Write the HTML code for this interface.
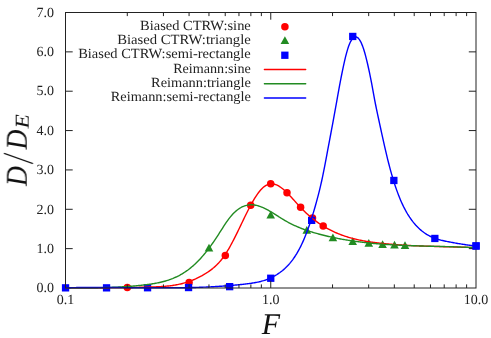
<!DOCTYPE html>
<html><head><meta charset="utf-8"><title>chart</title>
<style>html,body{margin:0;padding:0;background:#fff}body{width:491px;height:338px;overflow:hidden;position:relative;font-family:"Liberation Serif",serif}</style>
</head><body>
<svg width="491" height="338" viewBox="0 0 491 338" style="position:absolute;left:0;top:0">
<rect width="491" height="338" fill="#fff"/>
<g font-family="Liberation Serif, serif" font-size="14" fill="#222" text-rendering="geometricPrecision" opacity="0.999">
<text transform="translate(53.9,292.2) scale(1,1)" text-anchor="end">0.0</text>
<text transform="translate(53.9,252.8) scale(1,1)" text-anchor="end">1.0</text>
<text transform="translate(53.9,213.5) scale(1,1)" text-anchor="end">2.0</text>
<text transform="translate(53.9,174.1) scale(1,1)" text-anchor="end">3.0</text>
<text transform="translate(53.9,134.8) scale(1,1)" text-anchor="end">4.0</text>
<text transform="translate(53.9,95.4) scale(1,1)" text-anchor="end">5.0</text>
<text transform="translate(53.9,56.1) scale(1,1)" text-anchor="end">6.0</text>
<text transform="translate(53.9,16.7) scale(1,1)" text-anchor="end">7.0</text>
<text transform="translate(65.5,303.6) scale(1,1)" text-anchor="middle">0.1</text>
<text transform="translate(270.8,303.6) scale(1,1)" text-anchor="middle">1.0</text>
<text transform="translate(476.0,303.6) scale(1,1)" text-anchor="middle">10.0</text>
<text transform="translate(250.8,29.9) scale(1.0329,1)" text-anchor="end">Biased CTRW:sine</text>
<text transform="translate(250.8,44.1) scale(1.0489,1)" text-anchor="end">Biased CTRW:triangle</text>
<text transform="translate(250.8,58.4) scale(1.0334,1)" text-anchor="end">Biased CTRW:semi-rectangle</text>
<text transform="translate(250.8,72.7) scale(1.0082,1)" text-anchor="end">Reimann:sine</text>
<text transform="translate(250.8,86.9) scale(1.0260,1)" text-anchor="end">Reimann:triangle</text>
<text transform="translate(250.8,101.2) scale(1.0233,1)" text-anchor="end">Reimann:semi-rectangle</text>
</g>
<g font-family="Liberation Serif, serif" font-style="italic" fill="#111" text-rendering="geometricPrecision" opacity="0.999">
<text x="271" y="334" font-size="30" text-anchor="middle">F</text>
<g transform="translate(26.7,186) rotate(-90)"><text transform="scale(0.92,1)" font-size="30">D</text><path d="M22.4 6.2L32.7 -22.8" stroke="#111" stroke-width="1.2" fill="none"/><text transform="translate(36.6,0) scale(0.92,1)" font-size="30">D</text><text transform="translate(57.5,2.4) scale(1.19,1)" font-size="19.7">E</text></g>
</g>
<circle cx="127.3" cy="287.4" r="3.75" fill="#ff0000"/>
<circle cx="189.1" cy="282.5" r="3.75" fill="#ff0000"/>
<circle cx="225.3" cy="255.6" r="3.75" fill="#ff0000"/>
<circle cx="250.7" cy="205.2" r="3.75" fill="#ff0000"/>
<circle cx="270.7" cy="183.8" r="3.75" fill="#ff0000"/>
<circle cx="287.0" cy="192.8" r="3.75" fill="#ff0000"/>
<circle cx="300.6" cy="207.3" r="3.75" fill="#ff0000"/>
<circle cx="312.5" cy="218.0" r="3.75" fill="#ff0000"/>
<circle cx="323.2" cy="226.0" r="3.75" fill="#ff0000"/>
<circle cx="284.9" cy="26.8" r="3.75" fill="#ff0000"/>
<path d="M209.0 243.8l4.3 7.7h-8.6z" fill="#228b22"/>
<path d="M270.7 210.7l4.3 7.7h-8.6z" fill="#228b22"/>
<path d="M306.8 226.0l4.3 7.7h-8.6z" fill="#228b22"/>
<path d="M332.9 233.5l4.3 7.7h-8.6z" fill="#228b22"/>
<path d="M352.7 237.2l4.3 7.7h-8.6z" fill="#228b22"/>
<path d="M368.8 239.0l4.3 7.7h-8.6z" fill="#228b22"/>
<path d="M382.6 240.2l4.3 7.7h-8.6z" fill="#228b22"/>
<path d="M394.5 240.7l4.3 7.7h-8.6z" fill="#228b22"/>
<path d="M405.0 241.2l4.3 7.7h-8.6z" fill="#228b22"/>
<path d="M284.9 36.2l4.3 7.7h-8.6z" fill="#228b22"/>
<rect x="61.9" y="284.2" width="7.3" height="7.3" fill="#0000ff"/>
<rect x="102.9" y="284.2" width="7.3" height="7.3" fill="#0000ff"/>
<rect x="143.9" y="284.1" width="7.3" height="7.3" fill="#0000ff"/>
<rect x="184.9" y="283.9" width="7.3" height="7.3" fill="#0000ff"/>
<rect x="226.0" y="283.0" width="7.3" height="7.3" fill="#0000ff"/>
<rect x="267.1" y="274.6" width="7.3" height="7.3" fill="#0000ff"/>
<rect x="308.0" y="216.7" width="7.3" height="7.3" fill="#0000ff"/>
<rect x="349.1" y="32.8" width="7.3" height="7.3" fill="#0000ff"/>
<rect x="390.2" y="176.8" width="7.3" height="7.3" fill="#0000ff"/>
<rect x="431.2" y="234.8" width="7.3" height="7.3" fill="#0000ff"/>
<rect x="472.4" y="242.3" width="7.3" height="7.3" fill="#0000ff"/>
<rect x="281.2" y="51.6" width="7.3" height="7.3" fill="#0000ff"/>
<path d="M264.4 69.50H305.7" stroke="#ff0000" stroke-width="1.4" stroke-linecap="round" fill="none"/>
<path d="M65.60 287.70L66.60 287.70L67.60 287.70L68.60 287.70L69.60 287.70L70.60 287.70L71.60 287.70L72.60 287.70L73.60 287.70L74.60 287.70L75.60 287.70L76.60 287.70L77.60 287.70L78.60 287.70L79.60 287.70L80.60 287.70L81.60 287.70L82.60 287.70L83.60 287.70L84.60 287.70L85.60 287.70L86.60 287.70L87.60 287.70L88.60 287.70L89.60 287.70L90.60 287.70L91.60 287.70L92.60 287.70L93.60 287.70L94.60 287.70L95.60 287.70L96.60 287.70L97.60 287.70L98.60 287.70L99.60 287.70L100.60 287.70L101.60 287.70L102.60 287.70L103.60 287.70L104.60 287.69L105.60 287.69L106.60 287.69L107.60 287.68L108.60 287.68L109.60 287.67L110.60 287.67L111.60 287.66L112.60 287.66L113.60 287.65L114.60 287.64L115.60 287.64L116.60 287.63L117.60 287.62L118.60 287.61L119.60 287.61L120.60 287.60L121.60 287.59L122.60 287.58L123.60 287.56L124.60 287.55L125.60 287.54L126.60 287.53L127.60 287.52L128.60 287.50L129.60 287.49L130.60 287.47L131.60 287.46L132.60 287.44L133.60 287.42L134.60 287.41L135.60 287.39L136.60 287.37L137.60 287.35L138.60 287.33L139.60 287.31L140.60 287.29L141.60 287.27L142.60 287.24L143.60 287.22L144.60 287.20L145.60 287.17L146.60 287.14L147.60 287.12L148.60 287.09L149.60 287.06L150.60 287.03L151.60 287.00L152.60 286.97L153.60 286.94L154.60 286.90L155.60 286.86L156.60 286.82L157.60 286.77L158.60 286.73L159.60 286.67L160.60 286.62L161.60 286.55L162.60 286.49L163.60 286.41L164.60 286.33L165.60 286.25L166.60 286.16L167.60 286.06L168.60 285.95L169.60 285.84L170.60 285.71L171.60 285.58L172.60 285.44L173.60 285.29L174.60 285.13L175.60 284.96L176.60 284.78L177.60 284.59L178.60 284.39L179.60 284.17L180.60 283.95L181.60 283.71L182.60 283.46L183.60 283.19L184.60 282.91L185.60 282.62L186.60 282.32L187.60 281.99L188.60 281.66L189.60 281.31L190.60 280.94L191.60 280.56L192.60 280.16L193.60 279.74L194.60 279.31L195.60 278.87L196.60 278.40L197.60 277.92L198.60 277.43L199.60 276.92L200.60 276.39L201.60 275.85L202.60 275.28L203.60 274.71L204.60 274.11L205.60 273.50L206.60 272.87L207.60 272.22L208.60 271.55L209.60 270.85L210.60 270.13L211.60 269.37L212.60 268.58L213.60 267.75L214.60 266.88L215.60 265.97L216.60 265.02L217.60 264.01L218.60 262.96L219.60 261.85L220.60 260.69L221.60 259.46L222.60 258.17L223.60 256.82L224.60 255.40L225.60 253.91L226.60 252.36L227.60 250.73L228.60 249.05L229.60 247.31L230.60 245.51L231.60 243.67L232.60 241.79L233.60 239.86L234.60 237.90L235.60 235.91L236.60 233.89L237.60 231.84L238.60 229.78L239.60 227.71L240.60 225.62L241.60 223.54L242.60 221.45L243.60 219.37L244.60 217.30L245.60 215.25L246.60 213.23L247.60 211.23L248.60 209.26L249.60 207.33L250.60 205.44L251.60 203.60L252.60 201.81L253.60 200.08L254.60 198.41L255.60 196.81L256.60 195.29L257.60 193.84L258.60 192.47L259.60 191.20L260.60 190.01L261.60 188.93L262.60 187.95L263.60 187.08L264.60 186.31L265.60 185.65L266.60 185.09L267.60 184.64L268.60 184.29L269.60 184.04L270.60 183.89L271.60 183.84L272.60 183.89L273.60 184.03L274.60 184.26L275.60 184.57L276.60 184.96L277.60 185.43L278.60 185.96L279.60 186.57L280.60 187.24L281.60 187.96L282.60 188.74L283.60 189.58L284.60 190.45L285.60 191.37L286.60 192.33L287.60 193.33L288.60 194.35L289.60 195.40L290.60 196.47L291.60 197.56L292.60 198.67L293.60 199.78L294.60 200.90L295.60 202.02L296.60 203.14L297.60 204.25L298.60 205.34L299.60 206.43L300.60 207.49L301.60 208.54L302.60 209.56L303.60 210.55L304.60 211.53L305.60 212.48L306.60 213.42L307.60 214.33L308.60 215.22L309.60 216.09L310.60 216.94L311.60 217.77L312.60 218.58L313.60 219.37L314.60 220.15L315.60 220.90L316.60 221.64L317.60 222.35L318.60 223.06L319.60 223.74L320.60 224.40L321.60 225.05L322.60 225.69L323.60 226.30L324.60 226.90L325.60 227.49L326.60 228.06L327.60 228.61L328.60 229.15L329.60 229.68L330.60 230.19L331.60 230.69L332.60 231.18L333.60 231.65L334.60 232.11L335.60 232.55L336.60 232.99L337.60 233.41L338.60 233.82L339.60 234.22L340.60 234.60L341.60 234.98L342.60 235.35L343.60 235.70L344.60 236.04L345.60 236.38L346.60 236.70L347.60 237.01L348.60 237.32L349.60 237.61L350.60 237.90L351.60 238.17L352.60 238.44L353.60 238.70L354.60 238.95L355.60 239.19L356.60 239.43L357.60 239.65L358.60 239.87L359.60 240.08L360.60 240.29L361.60 240.49L362.60 240.68L363.60 240.86L364.60 241.04L365.60 241.22L366.60 241.38L367.60 241.54L368.60 241.70L369.60 241.85L370.60 242.00L371.60 242.14L372.60 242.28L373.60 242.41L374.60 242.54L375.60 242.67L376.60 242.79L377.60 242.91L378.60 243.02L379.60 243.14L380.60 243.25L381.60 243.35L382.60 243.46L383.60 243.56L384.60 243.66L385.60 243.76L386.60 243.85L387.60 243.95L388.60 244.04L389.60 244.13L390.60 244.21L391.60 244.30L392.60 244.38L393.60 244.46L394.60 244.54L395.60 244.61L396.60 244.69L397.60 244.76L398.60 244.83L399.60 244.90L400.60 244.96L401.60 245.03L402.60 245.09L403.60 245.15L404.60 245.21L405.60 245.27L406.60 245.33L407.60 245.38L408.60 245.43L409.60 245.49L410.60 245.54L411.60 245.59L412.60 245.63L413.60 245.68L414.60 245.73L415.60 245.77L416.60 245.81L417.60 245.85L418.60 245.90L419.60 245.93L420.60 245.97L421.60 246.01L422.60 246.05L423.60 246.08L424.60 246.12L425.60 246.15L426.60 246.19L427.60 246.22L428.60 246.25L429.60 246.28L430.60 246.31L431.60 246.34L432.60 246.37L433.60 246.40L434.60 246.43L435.60 246.46L436.60 246.49L437.60 246.52L438.60 246.54L439.60 246.57L440.60 246.60L441.60 246.62L442.60 246.65L443.60 246.68L444.60 246.70L445.60 246.73L446.60 246.76L447.60 246.78L448.60 246.81L449.60 246.84L450.60 246.86L451.60 246.89L452.60 246.92L453.60 246.94L454.60 246.97L455.60 247.00L456.60 247.03L457.60 247.06L458.60 247.09L459.60 247.12L460.60 247.15L461.60 247.18L462.60 247.21L463.60 247.25L464.60 247.28L465.60 247.31L466.60 247.35L467.60 247.38L468.60 247.42L469.60 247.46L470.60 247.50L471.60 247.54L472.60 247.58L473.60 247.62L474.60 247.66L475.60 247.71L476.00 247.72" stroke="#ff0000" stroke-width="1.4" fill="none" stroke-linejoin="round"/>
<path d="M264.4 83.75H305.7" stroke="#228b22" stroke-width="1.4" stroke-linecap="round" fill="none"/>
<path d="M65.60 287.66L66.60 287.67L67.60 287.68L68.60 287.69L69.60 287.70L70.60 287.70L71.60 287.70L72.60 287.70L73.60 287.70L74.60 287.70L75.60 287.70L76.60 287.70L77.60 287.70L78.60 287.70L79.60 287.70L80.60 287.70L81.60 287.70L82.60 287.70L83.60 287.70L84.60 287.70L85.60 287.70L86.60 287.70L87.60 287.70L88.60 287.70L89.60 287.70L90.60 287.70L91.60 287.70L92.60 287.70L93.60 287.70L94.60 287.70L95.60 287.70L96.60 287.70L97.60 287.68L98.60 287.67L99.60 287.65L100.60 287.63L101.60 287.61L102.60 287.59L103.60 287.57L104.60 287.55L105.60 287.52L106.60 287.50L107.60 287.47L108.60 287.44L109.60 287.41L110.60 287.37L111.60 287.34L112.60 287.30L113.60 287.26L114.60 287.22L115.60 287.18L116.60 287.13L117.60 287.09L118.60 287.04L119.60 286.99L120.60 286.93L121.60 286.88L122.60 286.82L123.60 286.76L124.60 286.70L125.60 286.63L126.60 286.56L127.60 286.49L128.60 286.42L129.60 286.35L130.60 286.27L131.60 286.19L132.60 286.11L133.60 286.02L134.60 285.93L135.60 285.84L136.60 285.75L137.60 285.65L138.60 285.55L139.60 285.45L140.60 285.35L141.60 285.24L142.60 285.13L143.60 285.01L144.60 284.89L145.60 284.77L146.60 284.65L147.60 284.52L148.60 284.39L149.60 284.25L150.60 284.11L151.60 283.97L152.60 283.81L153.60 283.65L154.60 283.48L155.60 283.30L156.60 283.12L157.60 282.93L158.60 282.72L159.60 282.51L160.60 282.28L161.60 282.05L162.60 281.80L163.60 281.54L164.60 281.27L165.60 280.98L166.60 280.68L167.60 280.37L168.60 280.04L169.60 279.69L170.60 279.33L171.60 278.95L172.60 278.56L173.60 278.14L174.60 277.71L175.60 277.26L176.60 276.79L177.60 276.30L178.60 275.80L179.60 275.27L180.60 274.71L181.60 274.14L182.60 273.54L183.60 272.92L184.60 272.28L185.60 271.61L186.60 270.92L187.60 270.21L188.60 269.46L189.60 268.69L190.60 267.90L191.60 267.07L192.60 266.22L193.60 265.35L194.60 264.44L195.60 263.50L196.60 262.54L197.60 261.55L198.60 260.53L199.60 259.48L200.60 258.40L201.60 257.30L202.60 256.16L203.60 255.00L204.60 253.81L205.60 252.59L206.60 251.34L207.60 250.06L208.60 248.75L209.60 247.41L210.60 246.05L211.60 244.65L212.60 243.23L213.60 241.79L214.60 240.33L215.60 238.84L216.60 237.34L217.60 235.82L218.60 234.28L219.60 232.73L220.60 231.16L221.60 229.60L222.60 228.03L223.60 226.48L224.60 224.94L225.60 223.44L226.60 221.97L227.60 220.55L228.60 219.17L229.60 217.86L230.60 216.62L231.60 215.44L232.60 214.34L233.60 213.29L234.60 212.31L235.60 211.40L236.60 210.55L237.60 209.76L238.60 209.03L239.60 208.37L240.60 207.76L241.60 207.21L242.60 206.72L243.60 206.29L244.60 205.91L245.60 205.59L246.60 205.33L247.60 205.11L248.60 204.95L249.60 204.85L250.60 204.79L251.60 204.78L252.60 204.82L253.60 204.91L254.60 205.04L255.60 205.21L256.60 205.42L257.60 205.67L258.60 205.96L259.60 206.29L260.60 206.64L261.60 207.03L262.60 207.45L263.60 207.89L264.60 208.36L265.60 208.85L266.60 209.37L267.60 209.91L268.60 210.46L269.60 211.03L270.60 211.61L271.60 212.21L272.60 212.82L273.60 213.44L274.60 214.06L275.60 214.69L276.60 215.33L277.60 215.96L278.60 216.60L279.60 217.23L280.60 217.86L281.60 218.48L282.60 219.10L283.60 219.70L284.60 220.29L285.60 220.88L286.60 221.44L287.60 222.00L288.60 222.54L289.60 223.06L290.60 223.58L291.60 224.08L292.60 224.57L293.60 225.05L294.60 225.52L295.60 225.97L296.60 226.42L297.60 226.85L298.60 227.27L299.60 227.69L300.60 228.09L301.60 228.48L302.60 228.87L303.60 229.24L304.60 229.61L305.60 229.97L306.60 230.32L307.60 230.66L308.60 230.99L309.60 231.32L310.60 231.64L311.60 231.95L312.60 232.26L313.60 232.56L314.60 232.85L315.60 233.14L316.60 233.42L317.60 233.70L318.60 233.97L319.60 234.24L320.60 234.50L321.60 234.76L322.60 235.02L323.60 235.27L324.60 235.52L325.60 235.76L326.60 236.00L327.60 236.24L328.60 236.47L329.60 236.69L330.60 236.92L331.60 237.14L332.60 237.35L333.60 237.57L334.60 237.78L335.60 237.98L336.60 238.18L337.60 238.38L338.60 238.58L339.60 238.77L340.60 238.95L341.60 239.14L342.60 239.32L343.60 239.50L344.60 239.67L345.60 239.84L346.60 240.01L347.60 240.17L348.60 240.34L349.60 240.49L350.60 240.65L351.60 240.80L352.60 240.95L353.60 241.10L354.60 241.24L355.60 241.38L356.60 241.52L357.60 241.65L358.60 241.78L359.60 241.91L360.60 242.04L361.60 242.16L362.60 242.28L363.60 242.40L364.60 242.52L365.60 242.63L366.60 242.74L367.60 242.85L368.60 242.95L369.60 243.06L370.60 243.16L371.60 243.26L372.60 243.35L373.60 243.45L374.60 243.54L375.60 243.63L376.60 243.71L377.60 243.80L378.60 243.88L379.60 243.96L380.60 244.04L381.60 244.12L382.60 244.19L383.60 244.27L384.60 244.34L385.60 244.41L386.60 244.48L387.60 244.54L388.60 244.61L389.60 244.67L390.60 244.73L391.60 244.79L392.60 244.85L393.60 244.90L394.60 244.96L395.60 245.01L396.60 245.06L397.60 245.11L398.60 245.16L399.60 245.21L400.60 245.26L401.60 245.30L402.60 245.35L403.60 245.39L404.60 245.43L405.60 245.47L406.60 245.51L407.60 245.55L408.60 245.59L409.60 245.62L410.60 245.66L411.60 245.69L412.60 245.73L413.60 245.76L414.60 245.79L415.60 245.82L416.60 245.85L417.60 245.88L418.60 245.91L419.60 245.94L420.60 245.97L421.60 246.00L422.60 246.03L423.60 246.05L424.60 246.08L425.60 246.10L426.60 246.13L427.60 246.15L428.60 246.18L429.60 246.20L430.60 246.23L431.60 246.25L432.60 246.28L433.60 246.30L434.60 246.33L435.60 246.35L436.60 246.37L437.60 246.40L438.60 246.42L439.60 246.45L440.60 246.47L441.60 246.49L442.60 246.52L443.60 246.54L444.60 246.57L445.60 246.60L446.60 246.62L447.60 246.65L448.60 246.67L449.60 246.70L450.60 246.73L451.60 246.76L452.60 246.79L453.60 246.82L454.60 246.85L455.60 246.88L456.60 246.91L457.60 246.94L458.60 246.98L459.60 247.01L460.60 247.04L461.60 247.08L462.60 247.12L463.60 247.15L464.60 247.19L465.60 247.23L466.60 247.27L467.60 247.32L468.60 247.36L469.60 247.40L470.60 247.45L471.60 247.50L472.60 247.55L473.60 247.59L474.60 247.65L475.60 247.70L476.00 247.72" stroke="#228b22" stroke-width="1.4" fill="none" stroke-linejoin="round"/>
<path d="M264.4 98.00H305.7" stroke="#0000ff" stroke-width="1.4" stroke-linecap="round" fill="none"/>
<path d="M65.60 287.70L66.60 287.70L67.60 287.70L68.60 287.70L69.60 287.70L70.60 287.68L71.60 287.66L72.60 287.64L73.60 287.62L74.60 287.61L75.60 287.59L76.60 287.57L77.60 287.56L78.60 287.54L79.60 287.53L80.60 287.52L81.60 287.51L82.60 287.49L83.60 287.49L84.60 287.48L85.60 287.47L86.60 287.46L87.60 287.46L88.60 287.45L89.60 287.44L90.60 287.44L91.60 287.44L92.60 287.43L93.60 287.43L94.60 287.43L95.60 287.43L96.60 287.43L97.60 287.43L98.60 287.43L99.60 287.43L100.60 287.44L101.60 287.44L102.60 287.44L103.60 287.45L104.60 287.45L105.60 287.46L106.60 287.46L107.60 287.47L108.60 287.47L109.60 287.48L110.60 287.49L111.60 287.49L112.60 287.50L113.60 287.51L114.60 287.52L115.60 287.53L116.60 287.54L117.60 287.54L118.60 287.55L119.60 287.56L120.60 287.57L121.60 287.58L122.60 287.59L123.60 287.60L124.60 287.61L125.60 287.62L126.60 287.63L127.60 287.64L128.60 287.65L129.60 287.66L130.60 287.68L131.60 287.69L132.60 287.70L133.60 287.70L134.60 287.70L135.60 287.70L136.60 287.70L137.60 287.70L138.60 287.70L139.60 287.70L140.60 287.70L141.60 287.70L142.60 287.70L143.60 287.70L144.60 287.70L145.60 287.70L146.60 287.70L147.60 287.70L148.60 287.70L149.60 287.70L150.60 287.70L151.60 287.70L152.60 287.70L153.60 287.70L154.60 287.70L155.60 287.70L156.60 287.70L157.60 287.70L158.60 287.70L159.60 287.70L160.60 287.70L161.60 287.70L162.60 287.70L163.60 287.70L164.60 287.70L165.60 287.70L166.60 287.70L167.60 287.70L168.60 287.70L169.60 287.70L170.60 287.70L171.60 287.70L172.60 287.70L173.60 287.70L174.60 287.70L175.60 287.70L176.60 287.70L177.60 287.70L178.60 287.70L179.60 287.70L180.60 287.70L181.60 287.70L182.60 287.70L183.60 287.70L184.60 287.70L185.60 287.70L186.60 287.68L187.60 287.66L188.60 287.64L189.60 287.61L190.60 287.59L191.60 287.56L192.60 287.54L193.60 287.51L194.60 287.48L195.60 287.45L196.60 287.42L197.60 287.39L198.60 287.35L199.60 287.32L200.60 287.28L201.60 287.25L202.60 287.21L203.60 287.17L204.60 287.12L205.60 287.08L206.60 287.04L207.60 286.99L208.60 286.94L209.60 286.90L210.60 286.84L211.60 286.79L212.60 286.74L213.60 286.68L214.60 286.63L215.60 286.57L216.60 286.51L217.60 286.45L218.60 286.39L219.60 286.32L220.60 286.25L221.60 286.19L222.60 286.12L223.60 286.04L224.60 285.97L225.60 285.90L226.60 285.82L227.60 285.74L228.60 285.66L229.60 285.58L230.60 285.49L231.60 285.41L232.60 285.32L233.60 285.23L234.60 285.14L235.60 285.04L236.60 284.95L237.60 284.85L238.60 284.75L239.60 284.65L240.60 284.54L241.60 284.44L242.60 284.33L243.60 284.22L244.60 284.11L245.60 283.99L246.60 283.87L247.60 283.75L248.60 283.63L249.60 283.50L250.60 283.36L251.60 283.22L252.60 283.06L253.60 282.90L254.60 282.73L255.60 282.55L256.60 282.36L257.60 282.15L258.60 281.94L259.60 281.70L260.60 281.46L261.60 281.19L262.60 280.91L263.60 280.62L264.60 280.30L265.60 279.97L266.60 279.61L267.60 279.23L268.60 278.83L269.60 278.41L270.60 277.97L271.60 277.50L272.60 277.00L273.60 276.48L274.60 275.93L275.60 275.35L276.60 274.75L277.60 274.11L278.60 273.44L279.60 272.75L280.60 272.01L281.60 271.25L282.60 270.45L283.60 269.61L284.60 268.73L285.60 267.81L286.60 266.84L287.60 265.82L288.60 264.74L289.60 263.61L290.60 262.42L291.60 261.17L292.60 259.85L293.60 258.46L294.60 257.00L295.60 255.47L296.60 253.86L297.60 252.16L298.60 250.38L299.60 248.52L300.60 246.56L301.60 244.51L302.60 242.36L303.60 240.12L304.60 237.77L305.60 235.32L306.60 232.75L307.60 230.08L308.60 227.30L309.60 224.41L310.60 221.42L311.60 218.33L312.60 215.13L313.60 211.84L314.60 208.44L315.60 204.96L316.60 201.37L317.60 197.69L318.60 193.89L319.60 189.91L320.60 185.71L321.60 181.25L322.60 176.54L323.60 171.62L324.60 166.53L325.60 161.31L326.60 156.01L327.60 150.67L328.60 145.33L329.60 140.03L330.60 134.75L331.60 129.46L332.60 124.12L333.60 118.70L334.60 113.19L335.60 107.61L336.60 102.02L337.60 96.44L338.60 90.92L339.60 85.48L340.60 80.16L341.60 75.00L342.60 70.03L343.60 65.30L344.60 60.83L345.60 56.66L346.60 52.83L347.60 49.38L348.60 46.33L349.60 43.72L350.60 41.55L351.60 39.80L352.60 38.47L353.60 37.54L354.60 37.00L355.60 36.84L356.60 37.05L357.60 37.62L358.60 38.56L359.60 39.87L360.60 41.57L361.60 43.65L362.60 46.12L363.60 48.99L364.60 52.26L365.60 55.88L366.60 59.81L367.60 64.03L368.60 68.48L369.60 73.14L370.60 78.02L371.60 83.16L372.60 88.58L373.60 94.13L374.60 99.58L375.60 104.75L376.60 109.66L377.60 114.39L378.60 119.02L379.60 123.63L380.60 128.24L381.60 132.83L382.60 137.39L383.60 141.89L384.60 146.33L385.60 150.68L386.60 154.92L387.60 159.05L388.60 163.03L389.60 166.88L390.60 170.58L391.60 174.14L392.60 177.56L393.60 180.84L394.60 183.98L395.60 186.99L396.60 189.87L397.60 192.62L398.60 195.25L399.60 197.76L400.60 200.15L401.60 202.43L402.60 204.61L403.60 206.68L404.60 208.65L405.60 210.53L406.60 212.32L407.60 214.02L408.60 215.63L409.60 217.17L410.60 218.63L411.60 220.03L412.60 221.35L413.60 222.61L414.60 223.81L415.60 224.95L416.60 226.04L417.60 227.08L418.60 228.07L419.60 229.01L420.60 229.89L421.60 230.74L422.60 231.53L423.60 232.29L424.60 233.00L425.60 233.67L426.60 234.31L427.60 234.91L428.60 235.47L429.60 236.00L430.60 236.50L431.60 236.96L432.60 237.40L433.60 237.81L434.60 238.20L435.60 238.56L436.60 238.90L437.60 239.22L438.60 239.51L439.60 239.80L440.60 240.06L441.60 240.31L442.60 240.55L443.60 240.78L444.60 240.99L445.60 241.20L446.60 241.41L447.60 241.60L448.60 241.80L449.60 241.99L450.60 242.18L451.60 242.37L452.60 242.55L453.60 242.74L454.60 242.92L455.60 243.09L456.60 243.27L457.60 243.44L458.60 243.60L459.60 243.77L460.60 243.93L461.60 244.09L462.60 244.25L463.60 244.40L464.60 244.55L465.60 244.69L466.60 244.84L467.60 244.98L468.60 245.11L469.60 245.24L470.60 245.37L471.60 245.50L472.60 245.62L473.60 245.73L474.60 245.85L475.60 245.96L476.00 246.00" stroke="#0000ff" stroke-width="1.4" fill="none" stroke-linejoin="round"/>
<path d="M65.50 288.00v-7.2M65.50 12.50v7.2M127.29 288.00v-3.6M127.29 12.50v3.6M163.43 288.00v-3.6M163.43 12.50v3.6M189.07 288.00v-3.6M189.07 12.50v3.6M208.96 288.00v-3.6M208.96 12.50v3.6M225.22 288.00v-3.6M225.22 12.50v3.6M238.96 288.00v-3.6M238.96 12.50v3.6M250.86 288.00v-3.6M250.86 12.50v3.6M261.36 288.00v-3.6M261.36 12.50v3.6M270.75 288.00v-7.2M270.75 12.50v7.2M332.54 288.00v-3.6M332.54 12.50v3.6M368.68 288.00v-3.6M368.68 12.50v3.6M394.32 288.00v-3.6M394.32 12.50v3.6M414.21 288.00v-3.6M414.21 12.50v3.6M430.47 288.00v-3.6M430.47 12.50v3.6M444.21 288.00v-3.6M444.21 12.50v3.6M456.11 288.00v-3.6M456.11 12.50v3.6M466.61 288.00v-3.6M466.61 12.50v3.6M65.50 248.64h7.2M476.00 248.64h-7.2M65.50 209.29h7.2M476.00 209.29h-7.2M65.50 169.93h7.2M476.00 169.93h-7.2M65.50 130.57h7.2M476.00 130.57h-7.2M65.50 91.21h7.2M476.00 91.21h-7.2M65.50 51.86h7.2M476.00 51.86h-7.2" stroke="#222" stroke-width="1" fill="none"/>
<rect x="65.50" y="12.50" width="410.50" height="275.50" fill="none" stroke="#222" stroke-width="1"/>
<rect x="472.4" y="242.3" width="7.3" height="7.3" fill="#0000ff"/>
</svg>
</body></html>
